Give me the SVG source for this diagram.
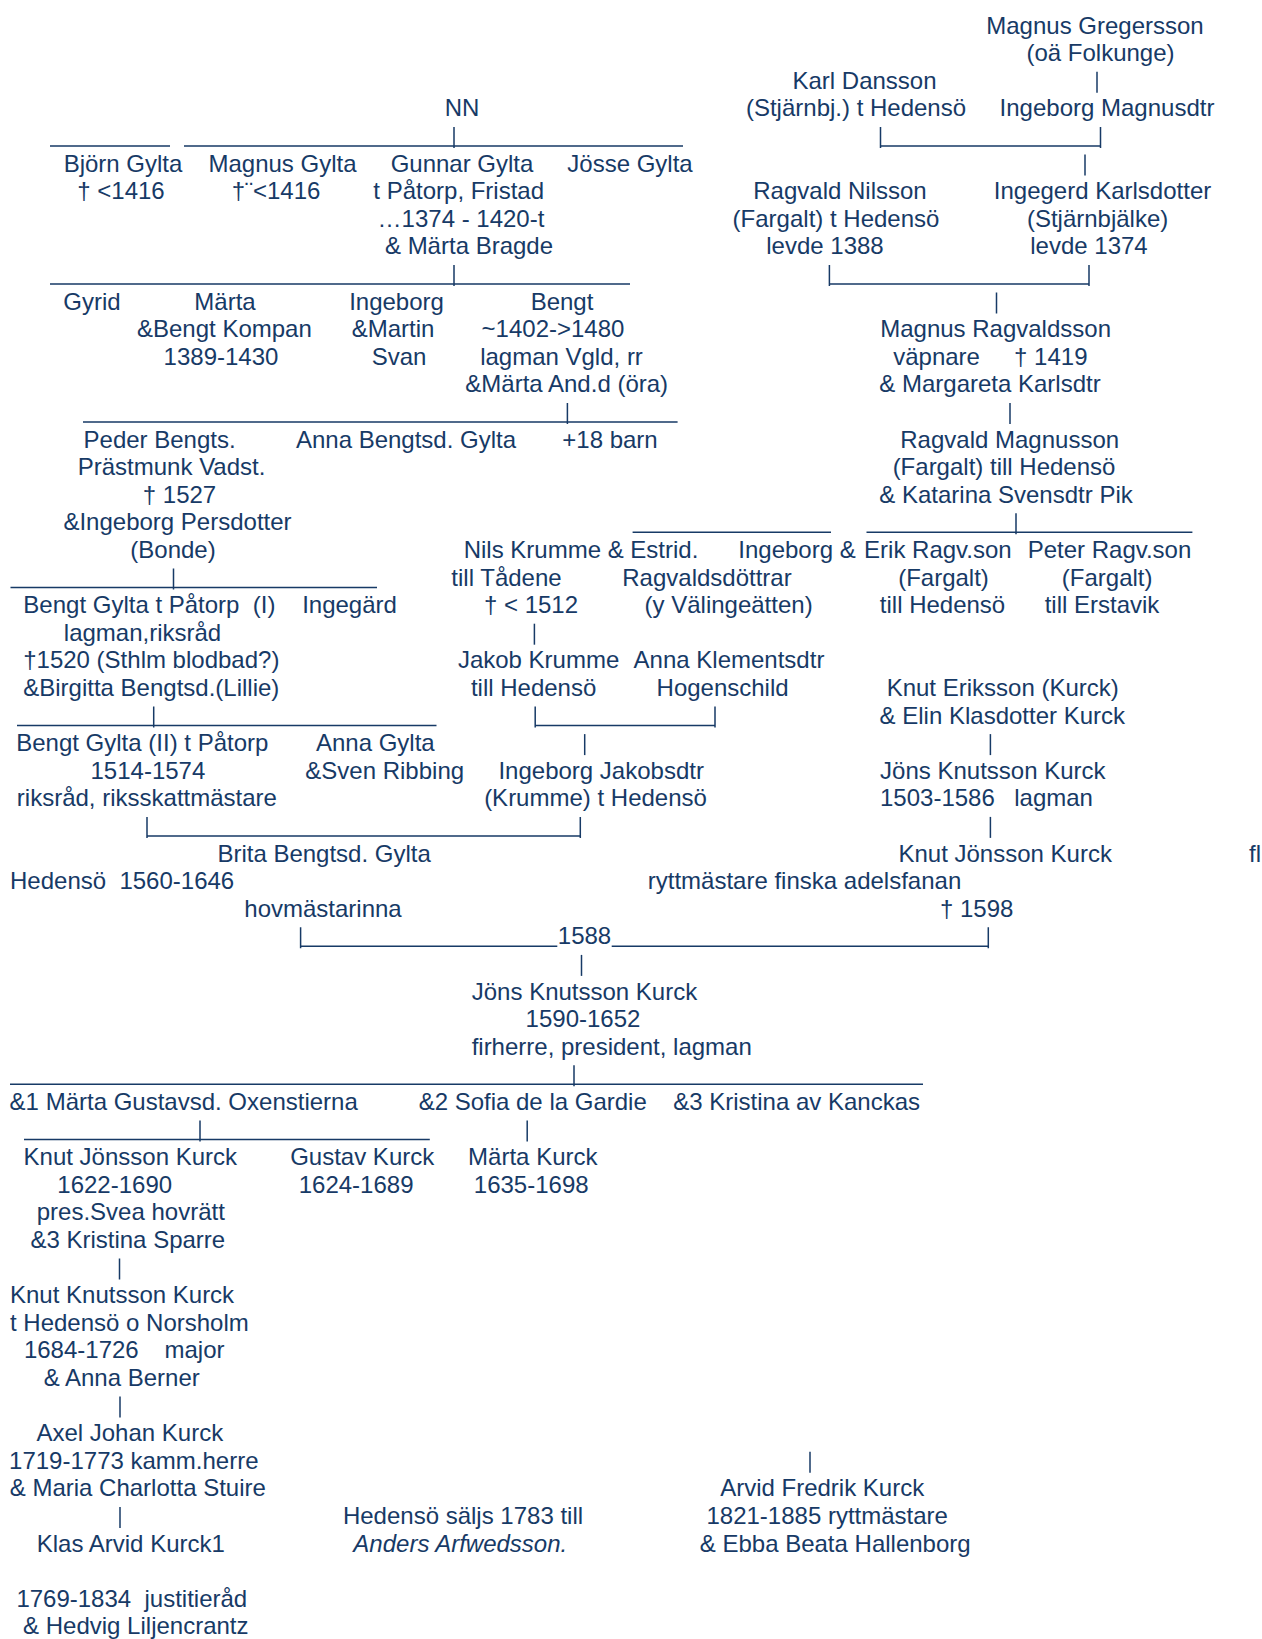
<svg xmlns="http://www.w3.org/2000/svg" width="1262" height="1639" viewBox="0 0 1262 1639">
<style>
text{font-family:"Liberation Sans",Arial,sans-serif;font-size:24px;fill:#173a66;text-anchor:middle;white-space:pre}
text.l{text-anchor:start}
text.i{font-style:italic}
.ln{fill:none;stroke:#173a66;stroke-width:1.5}
</style>
<rect width="1262" height="1639" fill="#fff"/>
<g id="connectors">
<path class="ln" d="M1097 71.7V92.7"/>
<path class="ln" d="M50 145.9H170M184 145.9H683M454 126.9V147.9"/>
<path class="ln" d="M880.5 126.9V147.9M880.5 145.9H1100.5M1100.5 126.9V147.9"/>
<path class="ln" d="M1085 154.5V175.5"/>
<path class="ln" d="M50 283.9H630M454 264.9V285.9"/>
<path class="ln" d="M829.4 264.9V285.9M829.4 283.9H1089M1089 264.9V285.9"/>
<path class="ln" d="M996.5 292.5V313.5"/>
<path class="ln" d="M83 421.9H677.6M567.4 402.9V423.9"/>
<path class="ln" d="M1010 402.9V423.9"/>
<path class="ln" d="M632.6 532.3H831M866.5 532.3H1192.4M1016 513.3V534.3"/>
<path class="ln" d="M10.5 587.5H377M173.5 568.5V589.5"/>
<path class="ln" d="M534.4 623.7V644.7"/>
<path class="ln" d="M17 725.5H436.5M153.7 706.5V727.5"/>
<path class="ln" d="M535.2 706.5V727.5M535.2 725.5H715M715 706.5V727.5"/>
<path class="ln" d="M584.7 734.1V755.1"/>
<path class="ln" d="M990.4 734.1V755.1"/>
<path class="ln" d="M147 816.9V837.9M147 835.9H580.3M580.3 816.9V837.9"/>
<path class="ln" d="M990.4 816.9V837.9"/>
<path class="ln" d="M300.6 927.3V948.3M300.6 946.3H557.3M611.7 946.3H988.3M988.3 927.3V948.3"/>
<path class="ln" d="M581.5 954.9V975.9"/>
<path class="ln" d="M10 1084.3H923M574 1065.3V1086.3"/>
<path class="ln" d="M24 1139.5H429.8M200 1120.5V1141.5"/>
<path class="ln" d="M527.2 1120.5V1141.5"/>
<path class="ln" d="M119.5 1258.5V1279.5"/>
<path class="ln" d="M120 1396.5V1417.5"/>
<path class="ln" d="M810 1451.7V1472.7"/>
<path class="ln" d="M120 1506.9V1527.9"/>
<text x="584.5" y="944.3">1588</text>
</g>
<g id="magnus-gregersson"><text x="1095" y="33.5">Magnus Gregersson</text><text x="1100.5" y="61.1">(oä Folkunge)</text></g>
<g id="karl-dansson"><text x="864.5" y="88.7">Karl Dansson</text><text x="856" y="116.3">(Stjärnbj.) t Hedensö</text></g>
<g id="ingeborg-magnusdtr"><text x="1107" y="116.3">Ingeborg Magnusdtr</text></g>
<g id="nn"><text x="462" y="116.3">NN</text></g>
<g id="bjorn-gylta"><text x="123" y="171.5">Björn Gylta</text><text x="121" y="199.1">† &lt;1416</text></g>
<g id="magnus-gylta"><text x="282.5" y="171.5">Magnus Gylta</text><text x="276" y="199.1">†¨&lt;1416</text></g>
<g id="gunnar-gylta"><text x="462" y="171.5">Gunnar Gylta</text><text x="458.7" y="199.1">t Påtorp, Fristad</text><text x="461" y="226.7">…1374 - 1420-t</text><text x="469" y="254.3">&amp; Märta Bragde</text></g>
<g id="josse-gylta"><text x="630" y="171.5">Jösse Gylta</text></g>
<g id="ragvald-nilsson"><text x="840" y="199.1">Ragvald Nilsson</text><text x="836" y="226.7">(Fargalt) t Hedensö</text><text x="825" y="254.3">levde 1388</text></g>
<g id="ingegerd-karlsdotter"><text x="1102.5" y="199.1">Ingegerd Karlsdotter</text><text x="1097.6" y="226.7">(Stjärnbjälke)</text><text x="1089" y="254.3">levde 1374</text></g>
<g id="gyrid"><text x="92" y="309.5">Gyrid</text></g>
<g id="marta"><text x="225" y="309.5">Märta</text><text x="224.4" y="337.1">&amp;Bengt Kompan</text><text x="221" y="364.7">1389-1430</text></g>
<g id="ingeborg"><text x="396.5" y="309.5">Ingeborg</text><text x="393" y="337.1">&amp;Martin</text><text x="399" y="364.7">Svan</text></g>
<g id="bengt"><text x="562" y="309.5">Bengt</text><text x="553" y="337.1">~1402-&gt;1480</text><text x="561.5" y="364.7">lagman Vgld, rr</text><text x="566.7" y="392.3">&amp;Märta And.d (öra)</text></g>
<g id="magnus-ragvaldsson"><text x="995.6" y="337.1">Magnus Ragvaldsson</text><text x="936.6" y="364.7">väpnare</text><text x="1050.8" y="364.7">† 1419</text><text x="990" y="392.3">&amp; Margareta Karlsdtr</text></g>
<g id="peder-bengts"><text x="159.6" y="447.5">Peder Bengts.</text><text x="171.6" y="475.1">Prästmunk Vadst.</text><text x="179.5" y="502.7">† 1527</text><text x="177.5" y="530.3">&amp;Ingeborg Persdotter</text><text x="173" y="557.9">(Bonde)</text></g>
<g id="anna-bengtsd-gylta"><text x="406" y="447.5">Anna Bengtsd. Gylta</text></g>
<g id="plus-18-barn"><text x="610" y="447.5">+18 barn</text></g>
<g id="ragvald-magnusson"><text x="1009.7" y="447.5">Ragvald Magnusson</text><text x="1004" y="475.1">(Fargalt) till Hedensö</text><text x="1006" y="502.7">&amp; Katarina Svensdtr Pik</text></g>
<g id="nils-krumme"><text x="581" y="557.9">Nils Krumme &amp; Estrid.</text><text x="506.5" y="585.5">till Tådene</text><text x="531" y="613.1">† &lt; 1512</text></g>
<g id="ragvaldsdottrar"><text x="797" y="557.9">Ingeborg &amp;</text><text x="707" y="585.5">Ragvaldsdöttrar</text><text x="728.6" y="613.1">(y Välingeätten)</text></g>
<g id="erik-ragvson"><text x="937.9" y="557.9">Erik Ragv.son</text><text x="943.5" y="585.5">(Fargalt)</text><text x="942.5" y="613.1">till Hedensö</text></g>
<g id="peter-ragvson"><text x="1109.5" y="557.9">Peter Ragv.son</text><text x="1107.2" y="585.5">(Fargalt)</text><text x="1102" y="613.1">till Erstavik</text></g>
<g id="bengt-gylta-1"><text x="149.4" y="613.1">Bengt Gylta t Påtorp  (I)</text><text x="142.5" y="640.7">lagman,riksråd</text><text x="151.3" y="668.3">†1520 (Sthlm blodbad?)</text><text x="151.3" y="695.9">&amp;Birgitta Bengtsd.(Lillie)</text></g>
<g id="ingegard"><text x="349.5" y="613.1">Ingegärd</text></g>
<g id="jakob-krumme"><text x="538.6" y="668.3">Jakob Krumme</text><text x="533.6" y="695.9">till Hedensö</text></g>
<g id="anna-klementsdtr"><text x="729" y="668.3">Anna Klementsdtr</text><text x="722.6" y="695.9">Hogenschild</text></g>
<g id="knut-eriksson"><text x="1002.7" y="695.9">Knut Eriksson (Kurck)</text><text x="1002.3" y="723.5">&amp; Elin Klasdotter Kurck</text></g>
<g id="bengt-gylta-2"><text x="142.3" y="751.1">Bengt Gylta (II) t Påtorp</text><text x="147.9" y="778.7">1514-1574</text><text x="146.9" y="806.3">riksråd, riksskattmästare</text></g>
<g id="anna-gylta"><text x="375.3" y="751.1">Anna Gylta</text><text x="384.7" y="778.7">&amp;Sven Ribbing</text></g>
<g id="ingeborg-jakobsdtr"><text x="601.2" y="778.7">Ingeborg Jakobsdtr</text><text x="595.5" y="806.3">(Krumme) t Hedensö</text></g>
<g id="jons-knutsson-kurck-1503"><text x="992.8" y="778.7">Jöns Knutsson Kurck</text><text x="937.4" y="806.3">1503-1586</text><text x="1053.6" y="806.3">lagman</text></g>
<g id="brita-bengtsd-gylta"><text x="324.1" y="861.5">Brita Bengtsd. Gylta</text><text class="l" x="10" y="889.1">Hedensö  1560-1646</text><text x="323" y="916.7">hovmästarinna</text></g>
<g id="knut-jonsson-kurck-1598"><text x="1005.2" y="861.5">Knut Jönsson Kurck</text><text class="l" x="1249" y="861.5">fl</text><text x="804.5" y="889.1">ryttmästare finska adelsfanan</text><text x="976.7" y="916.7">† 1598</text></g>
<g id="jons-knutsson-kurck-1590"><text x="584.5" y="999.5">Jöns Knutsson Kurck</text><text x="583" y="1027.1">1590-1652</text><text x="611.7" y="1054.7">firherre, president, lagman</text></g>
<g id="marta-oxenstierna"><text x="183.7" y="1109.9">&amp;1 Märta Gustavsd. Oxenstierna</text></g>
<g id="sofia-de-la-gardie"><text x="532.7" y="1109.9">&amp;2 Sofia de la Gardie</text></g>
<g id="kristina-av-kanckas"><text x="796.6" y="1109.9">&amp;3 Kristina av Kanckas</text></g>
<g id="knut-jonsson-kurck-1622"><text x="130.3" y="1165.1">Knut Jönsson Kurck</text><text x="114.7" y="1192.7">1622-1690</text><text x="130.8" y="1220.3">pres.Svea hovrätt</text><text x="127.8" y="1247.9">&amp;3 Kristina Sparre</text></g>
<g id="gustav-kurck"><text x="362.2" y="1165.1">Gustav Kurck</text><text x="356.1" y="1192.7">1624-1689</text></g>
<g id="marta-kurck"><text x="532.8" y="1165.1">Märta Kurck</text><text x="531.2" y="1192.7">1635-1698</text></g>
<g id="knut-knutsson-kurck"><text class="l" x="10" y="1303.1">Knut Knutsson Kurck</text><text class="l" x="10" y="1330.7">t Hedensö o Norsholm</text><text x="81.3" y="1358.3">1684-1726</text><text x="194.5" y="1358.3">major</text><text x="121.7" y="1385.9">&amp; Anna Berner</text></g>
<g id="axel-johan-kurck"><text x="129.8" y="1441.1">Axel Johan Kurck</text><text x="133.8" y="1468.7">1719-1773 kamm.herre</text><text x="137.8" y="1496.3">&amp; Maria Charlotta Stuire</text></g>
<g id="klas-arvid-kurck"><text x="130.8" y="1551.5">Klas Arvid Kurck1</text><text x="131.8" y="1606.7">1769-1834  justitieråd</text><text x="135.8" y="1634.3">&amp; Hedvig Liljencrantz</text></g>
<g id="hedenso-note"><text x="463" y="1523.9">Hedensö säljs 1783 till</text><text class="i" x="460.3" y="1551.5">Anders Arfwedsson.</text></g>
<g id="arvid-fredrik-kurck"><text x="822.2" y="1496.3">Arvid Fredrik Kurck</text><text x="827.2" y="1523.9">1821-1885 ryttmästare</text><text x="835.2" y="1551.5">&amp; Ebba Beata Hallenborg</text></g>
</svg>
